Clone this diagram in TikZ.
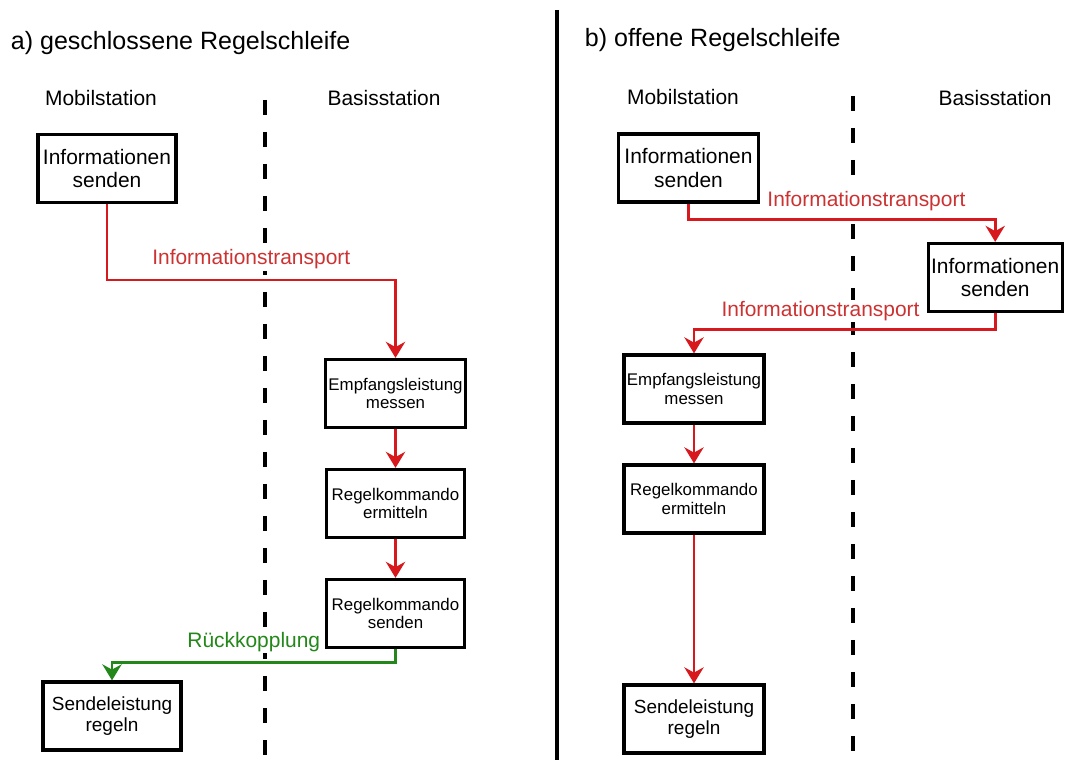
\documentclass[tikz,border=0pt]{standalone}
\usepackage{fontspec}
\setmainfont{Liberation Sans}
\usepackage{xcolor}
\usetikzlibrary{arrows.meta, positioning}
\definecolor{cRed}{RGB}{215,25,30}
\definecolor{cRedText}{RGB}{205,50,50}
\definecolor{cGreen}{RGB}{35,135,25}
\tikzset{
	box/.style      ={rectangle, draw=black, line width=0.08cm, minimum width=3.45cm, minimum height=1.7cm, align=center, inner sep=2pt, font=\fontsize{14.9}{16.4}\selectfont},
	smallbox/.style ={box, font=\fontsize{12}{13}\selectfont},
	endbox/.style   ={box, font=\fontsize{13.5}{15.4}\selectfont},
	sig/.style      ={-{Stealth[length=0.4cm, width=0.48cm, inset=0.13cm]}, line width=0.07cm, draw=cRed},
	fb/.style       ={sig, draw=cGreen},
	siglabel/.style ={font=\fontsize{14.9}{16}\selectfont, text=cRedText, fill=white, inner sep=1pt},
	fblabel/.style  ={siglabel, text=cGreen},
	station/.style  ={font=\fontsize{14.9}{16}\selectfont},
	heading/.style  ={anchor=west, font=\fontsize{17.8}{20}\selectfont},
	% separators
	divider/.style  ={line width=0.08cm, dash pattern=on 0.375cm off 0.425cm},
	midline/.style  ={line width=0.1cm},
}
\begin{document}
\begin{tikzpicture}
	\useasboundingbox (0,0) rectangle (26.65,19);
	\fill[white] (0,0) rectangle (26.65,19);
	\draw[midline] (13.925,18.75) -- (13.925,0);
	\draw[divider] (6.625,16.5) -- (6.625,0);
	\draw[divider] (21.325,16.6) -- (21.325,0);

	% a) closed loop
	\node[heading] (titleA) at (0.15,17.925) {a) geschlossene Regelschleife};
	\node[station] (mobA) at (2.525,16.55) {Mobilstation};
	\node[station] (basA) at (9.6,16.55) {Basisstation};
	\node[box] (infoA) at (2.675,14.7875) {Informationen\\ senden};
	\node[smallbox] (empfA) at (9.8875,9.1625) {Empfangsleistung\\ messen};
	\node[smallbox, below=0.97cm of empfA] (ermA) {Regelkommando\\ ermitteln};
	\node[smallbox, below=0.97cm of ermA] (sendA) {Regelkommando\\ senden};
	\node[endbox] (regA) at (2.8,1.1) {Sendeleistung\\ regeln};
	\draw[sig] (infoA.south) -- ++(0,-1.9) -| node[siglabel, pos=0.25, above=0.2cm] {Informationstransport} (empfA.north);
	\draw[sig] (empfA) -- (ermA);
	\draw[sig] (ermA) -- (sendA);
	\draw[fb] (sendA.south) -- ++(0,-0.33) -| node[fblabel, pos=0.25, above=0.2cm] {Rückkopplung} (regA.north);

	% b) open loop
	\node[heading] (titleB) at (14.5,18.0) {b) offene Regelschleife};
	\node[station] (mobB) at (17.075,16.575) {Mobilstation};
	\node[station] (basB) at (24.875,16.55) {Basisstation};
	\node[box, minimum width=3.5cm] (infoB1) at (17.2125,14.8) {Informationen\\ senden};
	\node[box, minimum width=3.35cm] (infoB2) at (24.88,12.0625) {Informationen\\ senden};
	\node[smallbox, minimum width=3.5cm] (empfB) at (17.35,9.275) {Empfangsleistung\\ messen};
	\node[smallbox, minimum width=3.5cm, below=0.97cm of empfB] (ermB) {Regelkommando\\ ermitteln};
	\node[endbox, minimum width=3.5cm, below=3.72cm of ermB] (regB) {Sendeleistung\\ regeln};
	\draw[sig] (infoB1.south) -- ++(0,-0.4) -| node[siglabel, pos=0.29, above=0.15cm] {Informationstransport} (infoB2.north);
	\draw[sig] (infoB2.south) -- ++(0,-0.42) -| node[siglabel, pos=0.29, above=0.15cm] {Informationstransport} (empfB.north);
	\draw[sig] (empfB) -- (ermB);
	\draw[sig] (ermB) -- (regB);
\end{tikzpicture}
\end{document}
